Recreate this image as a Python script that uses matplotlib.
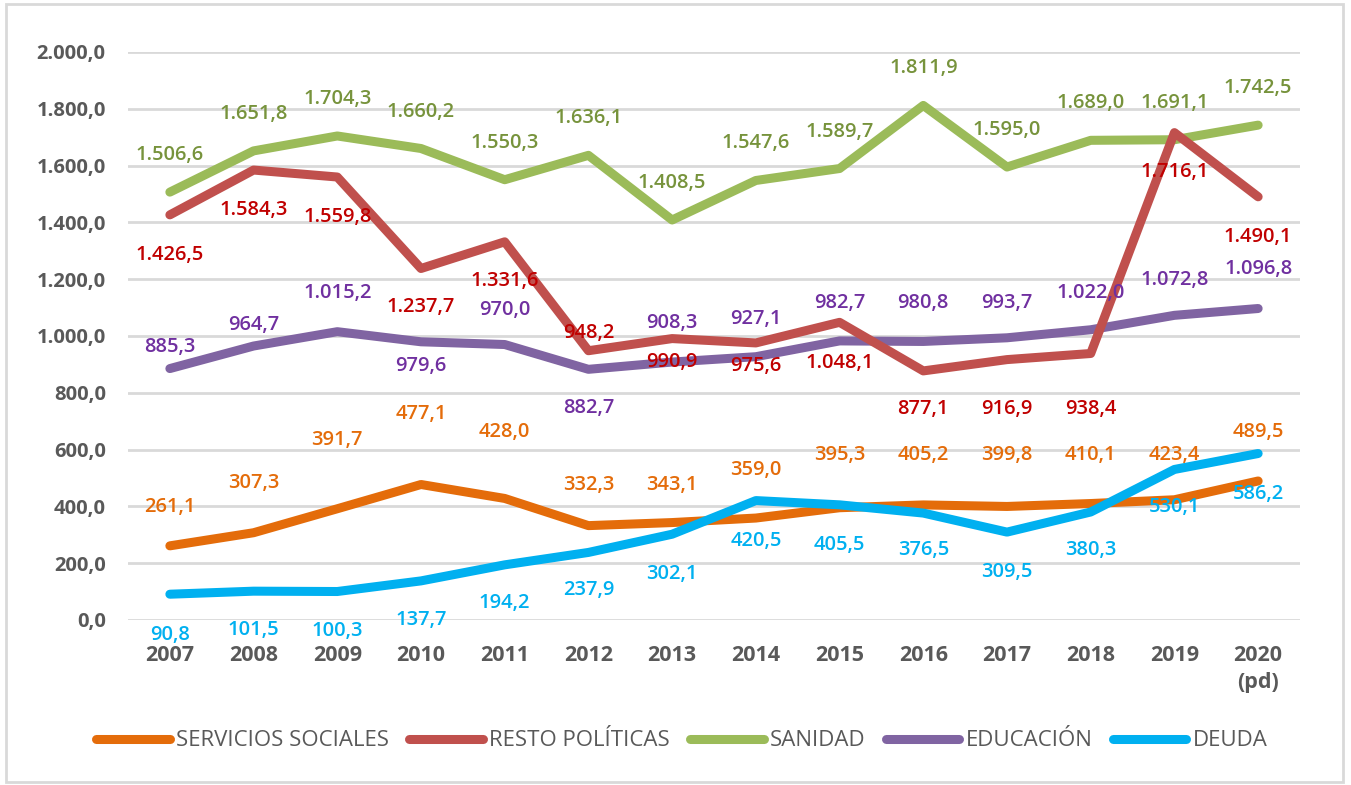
import matplotlib.pyplot as plt
from matplotlib.lines import Line2D
from matplotlib.patches import Rectangle
from matplotlib.ticker import FuncFormatter

plt.rcParams['font.family'] = ['Open Sans', 'DejaVu Sans']

years = ['2007', '2008', '2009', '2010', '2011', '2012', '2013',
         '2014', '2015', '2016', '2017', '2018', '2019', '2020\n(pd)']

servicios_sociales = [261.1, 307.3, 391.7, 477.1, 428.0, 332.3, 343.1,
                      359.0, 395.3, 405.2, 399.8, 410.1, 423.4, 489.5]
resto_politicas = [1426.5, 1584.3, 1559.8, 1237.7, 1331.6, 948.2, 990.9,
                   975.6, 1048.1, 877.1, 916.9, 938.4, 1716.1, 1490.1]
sanidad = [1506.6, 1651.8, 1704.3, 1660.2, 1550.3, 1636.1, 1408.5,
           1547.6, 1589.7, 1811.9, 1595.0, 1689.0, 1691.1, 1742.5]
educacion = [885.3, 964.7, 1015.2, 979.6, 970.0, 882.7, 908.3,
             927.1, 982.7, 980.8, 993.7, 1022.0, 1072.8, 1096.8]
deuda = [90.8, 101.5, 100.3, 137.7, 194.2, 237.9, 302.1,
         420.5, 405.5, 376.5, 309.5, 380.3, 530.1, 586.2]

# vertical offset (pixels) of every data label from its point
off_serv = [39, 50, 69, 71, 66, 41, 38, 48, 53, 50, 51, 49, 45, 49]
off_resto = [-40, -40, -40, -39, -39, 18, -23, -23, -41, -38, -49, -56, -39, -40]
off_sani = [37] * 14
off_edu = [22, 21, 39, -24, 35, -39, 39, 38, 38, 38, 35, 37, 35, 40]
off_deuda = [-41, -39, -39, -39, -38, -38, -40, -40, -40, -37, -40, -38, -38, -40]

series = [
    ('SERVICIOS SOCIALES', servicios_sociales, '#E46C0A', '#E46C0A', off_serv, 2),
    ('RESTO POLÍTICAS', resto_politicas, '#C0504D', '#C00000', off_resto, 5),
    ('SANIDAD', sanidad, '#9BBB59', '#77933C', off_sani, 3),
    ('EDUCACIÓN', educacion, '#8064A2', '#7030A0', off_edu, 4),
    ('DEUDA', deuda, '#00B0F0', '#00B0F0', off_deuda, 6),
]


def es_num(v):
    s = f'{v:,.1f}'
    return s.replace(',', 'X').replace('.', ',').replace('X', '.')


fig = plt.figure(figsize=(13.51, 7.85), dpi=100)
ax = fig.add_axes([128 / 1351, 165 / 785, 1172 / 1351, 568 / 785])

x = list(range(len(years)))
handles = []
for name, vals, col, lab_col, offs, z in series:
    ax.plot(x, vals, color=col, lw=6.5, solid_capstyle='round',
            solid_joinstyle='round', zorder=z)
    for xi, v, o in zip(x, vals, offs):
        ax.annotate(es_num(v), (xi, v), xytext=(0, o), textcoords='offset pixels',
                    ha='center', va='center', color=lab_col, fontsize=14.5,
                    fontweight='semibold', zorder=10)
    handles.append(Line2D([], [], color=col, lw=6.5, solid_capstyle='round'))

ax.set_xlim(-0.5, len(years) - 0.5)
ax.set_ylim(0, 2000)
ax.set_yticks(range(0, 2001, 200))
ax.yaxis.set_major_formatter(FuncFormatter(lambda v, p: es_num(v)))
ax.set_xticks(x)
ax.set_xticklabels(years, linespacing=1.4)
ax.tick_params(axis='y', length=0, labelsize=14.5, labelcolor='#595959', pad=16)
ax.tick_params(axis='x', length=0, labelsize=15.5, labelcolor='#595959', pad=18)
for lbl in ax.get_xticklabels() + ax.get_yticklabels():
    lbl.set_fontweight('bold')
for s in ax.spines.values():
    s.set_visible(False)
ax.grid(axis='y', color='#D9D9D9', lw=2)
ax.set_axisbelow(True)

fig.legend(handles, [s[0] for s in series], loc='center',
           bbox_to_anchor=(682 / 1351, 44 / 785), ncol=5, frameon=False,
           fontsize=16, handlelength=3.3, handletextpad=0.3,
           columnspacing=0.9, labelcolor='#595959')

fig.patches.append(Rectangle((6 / 1351, 3 / 785), 1337 / 1351, 778 / 785,
                             transform=fig.transFigure, fill=False,
                             edgecolor='#D9D9D9', lw=2))

fig.savefig('out.png', dpi=100)
